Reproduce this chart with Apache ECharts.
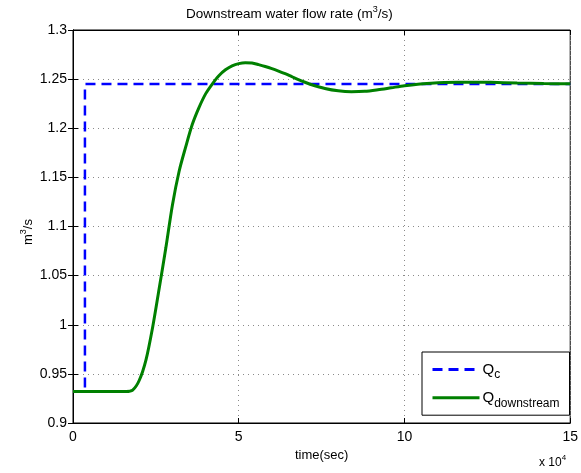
<!DOCTYPE html>
<html>
<head>
<meta charset="utf-8">
<script src="https://cdn.jsdelivr.net/npm/echarts@6/dist/echarts.min.js"></script>
<style>
  html, body { margin: 0; padding: 0; background: #fff; }
  #chart-container { width: 581px; height: 473px; }
</style>
</head>
<body>
<div id="chart-container"></div>
<script>
// time (sec) and values
var qcTime = [0, 3600, 3600, 150000];
var qcValue = [0.932, 0.932, 1.245, 1.245];

var qdTime = [0, 16000, 18000, 20000, 22000, 24000, 26000, 28000, 30000, 32000, 34000, 36000,
    38000, 40000, 42000, 44000, 46000, 48000, 50000, 52000, 54000, 56000, 58000, 60000, 62000,
    64000, 66000, 68000, 70000, 72000, 76000, 80000, 84000, 88000, 92000, 96000, 100000, 104000,
    108000, 112000, 116000, 120000, 126000, 134000, 142000, 150000];
var qdValue = [0.932, 0.932, 0.9335, 0.9435, 0.964, 0.997, 1.037, 1.078, 1.122, 1.156, 1.181, 1.204,
    1.221, 1.235, 1.245, 1.2535, 1.2595, 1.2635, 1.2658, 1.2667, 1.2664, 1.2648, 1.2629, 1.2607, 1.2582,
    1.2555, 1.2525, 1.2495, 1.2468, 1.2443, 1.2405, 1.2381, 1.2372, 1.2376, 1.2392, 1.2412, 1.2432, 1.2448,
    1.2458, 1.2465, 1.2468, 1.2468, 1.2467, 1.246, 1.2455, 1.2453];

var xTicks = [0, 5, 10, 15];   // x 10^4
var yMin = 0.9, yMax = 1.3, yStep = 0.05;

function pairs(xs, ys) {
    var out = [];
    for (var i = 0; i < xs.length; i++) out.push([xs[i], ys[i]]);
    return out;
}

var font = 'Liberation Sans, Arial, Helvetica, sans-serif';

var myChart = echarts.init(document.getElementById('chart-container'));
var option = {
    animation: false,
    textStyle: { fontFamily: font },
    title: {
        text: '{a|Downstream water flow rate (m}{b|3}{a|/s)}',
        left: 181,
        top: 0,
        textStyle: {
            fontWeight: 'normal',
            rich: {
                a: { fontSize: 13.5, color: '#000', fontFamily: font, fontWeight: 'normal' },
                b: { fontSize: 9, color: '#000', fontFamily: font, fontWeight: 'normal', padding: [0, 0, 9, 0] }
            }
        }
    },
    grid: {
        left: 73, right: 8, top: 30, bottom: 50,
        show: true, borderColor: '#000', borderWidth: 1
    },
    legend: {
        orient: 'vertical',
        left: 422,
        top: 352,
        padding: [8, 10, 6, 9],
        itemGap: 7,
        itemWidth: 47,
        itemHeight: 24,
        borderColor: '#000',
        borderWidth: 1,
        borderRadius: 0,
        backgroundColor: '#fff',
        itemStyle: { color: 'transparent', borderWidth: 0, opacity: 0 },
        lineStyle: { width: 3 },
        data: ['Qc', 'Qdownstream'],
        formatter: function (name) {
            return name === 'Qc' ? '{q|Q}{s|c}' : '{q|Q}{s|downstream}';
        },
        textStyle: {
            padding: [0, 0, 0, -2],
            rich: {
                q: { fontSize: 15, color: '#000', fontFamily: font },
                s: { fontSize: 12, color: '#000', fontFamily: font, padding: [11, 0, 0, 0] }
            }
        }
    },
    graphic: [{
        type: 'text',
        left: 539,
        top: 454,
        style: {
            text: '{a|x 10}{b|4}',
            rich: {
                a: { fontSize: 12, fill: '#000', fontFamily: font },
                b: { fontSize: 8, fill: '#000', fontFamily: font, padding: [0, 0, 9, 0] }
            }
        }
    }, {
        // y axis title, rotated
        type: 'text',
        x: 28,
        y: 232,
        rotation: Math.PI / 2,
        style: {
            text: '{a|m}{b|3}{a|/s}',
            align: 'center',
            verticalAlign: 'middle',
            rich: {
                a: { fontSize: 13, fill: '#000', fontFamily: font },
                b: { fontSize: 9, fill: '#000', fontFamily: font, padding: [0, 0, 9, 0] }
            }
        }
    }],
    xAxis: [{
        type: 'value',
        min: 0, max: 150000, interval: 50000,
        name: 'time(sec)',
        nameLocation: 'middle',
        nameGap: 17,
        nameTextStyle: { fontSize: 13, color: '#000', fontFamily: font },
        axisLine: { lineStyle: { color: '#000' } },
        axisTick: { inside: true, length: 5, lineStyle: { color: '#000' } },
        axisLabel: {
            margin: 7, fontSize: 14, color: '#000', fontFamily: font,
            formatter: function (v) { return String(v / 10000); }
        },
        splitLine: { show: true, lineStyle: { color: '#8a8a8a', type: [1, 4] } }
    }, {
        type: 'value', position: 'top',
        min: 0, max: 150000, interval: 50000,
        axisLine: { lineStyle: { color: '#000' } },
        axisTick: { inside: true, length: 5, lineStyle: { color: '#000' } },
        axisLabel: { show: false },
        splitLine: { show: false }
    }],
    yAxis: [{
        type: 'value',
        min: yMin, max: yMax, interval: yStep,
        axisLine: { lineStyle: { color: '#000' } },
        axisTick: { inside: true, length: 5, lineStyle: { color: '#000' } },
        axisLabel: {
            margin: 6, fontSize: 14, color: '#000', fontFamily: font,
            formatter: function (v) { return String(Math.round(v * 100) / 100); }
        },
        splitLine: { show: true, lineStyle: { color: '#8a8a8a', type: [1, 4] } }
    }, {
        type: 'value', position: 'right',
        min: yMin, max: yMax, interval: yStep,
        axisLine: { lineStyle: { color: '#000' } },
        axisTick: { inside: true, length: 5, lineStyle: { color: '#000' } },
        axisLabel: { show: false },
        splitLine: { show: false }
    }],
    series: [
        {
            name: 'Qc',
            type: 'line',
            data: pairs(qcTime, qcValue),
            symbol: 'none',
            color: '#0000ff',
            lineStyle: { width: 2.5, color: '#0000ff', type: [10, 6] }
        },
        {
            name: 'Qdownstream',
            type: 'line',
            data: pairs(qdTime, qdValue),
            symbol: 'none',
            smooth: 0.3,
            color: '#008000',
            lineStyle: { width: 3, color: '#008000' }
        }
    ]
};
myChart.setOption(option);
</script>
</body>
</html>
